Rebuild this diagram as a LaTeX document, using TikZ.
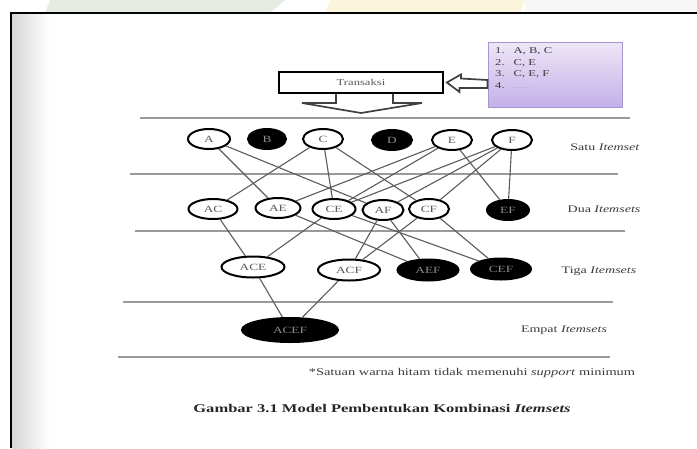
\documentclass[tikz,border=0pt]{standalone}
\usepackage{fontspec}
\setmainfont{Liberation Serif}[FakeStretch=1.4]
\usetikzlibrary{shapes.geometric}
\definecolor{linkgray}{HTML}{5C5C5C}
\definecolor{rulegray}{HTML}{9A9A9A}
\definecolor{textgray}{HTML}{3C3C3C}
\definecolor{boxtop}{HTML}{EEE6F7}
\definecolor{boxbottom}{HTML}{C3B0E9}
\definecolor{boxedge}{HTML}{A597CC}
\definecolor{bandgreen}{HTML}{E6ECE4}
\definecolor{bandyellow}{HTML}{FBF5DC}
\begin{document}
\begin{tikzpicture}[x=1pt,y=-1pt,
  item/.style={ellipse, draw=black, line width=2pt, fill=white, inner sep=0pt,
    minimum width=40pt, minimum height=20pt, text=black!65,
    font=\fontsize{9.5}{10}\selectfont},
  pruned/.style={item, fill=black, text=black!45},
  link/.style={draw=linkgray, line width=1.1pt},
  levelrule/.style={draw=rulegray, line width=1.4pt},
  levellabel/.style={text=textgray, font=\fontsize{10}{11}\selectfont, inner sep=0pt},
  hollow/.style={draw=black!75, line width=1.7pt, fill=white, line join=miter}]
\useasboundingbox (0,0) rectangle (697,448);
\fill[white] (0,0) rectangle (697,448);
% strip above the page edge
\fill[bandgreen] (50,0) -- (285,0) -- (270,13) -- (45,13) -- cycle;
\fill[bandyellow] (330,0) -- (525,0) -- (520,13) -- (325,13) -- cycle;
\fill[black!3] (525,0) rectangle (697,13);
% page frame and its shaded left margin
\shade[left color=black!16, right color=white] (12,14) rectangle (50,448);
\draw[line width=2.2pt] (11,448) -- (11,13) -- (697,13);

% level separators
\draw[levelrule] (140,118) -- (630,118);
\draw[levelrule] (130,174) -- (618,174);
\draw[levelrule] (135,231) -- (625,231);
\draw[levelrule] (123,302) -- (613,302);
\draw[levelrule] (118,357) -- (610,357);

% transaction source
\node[draw=black, line width=1.8pt, fill=white, minimum width=164pt, minimum height=21pt,
  inner sep=0pt, text=black!65, font=\fontsize{9}{10}\selectfont] (trans) at (361,82.5) {Transaksi};
\node[draw=boxedge, line width=1pt, top color=boxtop, bottom color=boxbottom,
  minimum width=134pt, minimum height=65pt, inner sep=0pt] (list) at (555,74.5) {};
\node[anchor=north west, inner sep=0pt, text=textgray, font=\fontsize{9}{11.5}\selectfont]
  (listtext) at (495,45.5) {\begin{tabular}{@{}l@{\hspace{9pt}}l@{}}
  1. & A, B, C\\ 2. & C, E\\ 3. & C, E, F\\ 4. & \textcolor{black!30}{......}\end{tabular}};

% hollow arrows: list into the transactions, transactions down to the lattice
\draw[hollow] ([xshift=3pt]trans.east) -- ++(14,-8) -- ++(0,4) -- (list.west |- 0,80)
  -- (list.west |- 0,88) -- ++(-28,0) -- ++(0,4) -- cycle;
\draw[hollow] (336,94) -- (336,103) -- (302,103) -- (361,113) -- (422,103) -- (393,103) -- (393,94);

% one-itemsets
\node[item, minimum width=42pt] (A) at (209,139) {A};
\node[pruned, minimum width=38pt] (B) at (267,139) {B};
\node[item] (C) at (323,139) {C};
\node[pruned] (D) at (392,140) {D};
\node[item] (E) at (452,140) {E};
\node[item] (F) at (512,140) {F};
% two-itemsets
\node[item, minimum width=49pt] (AC) at (213,209) {AC};
\node[item, minimum width=45pt] (AE) at (278,208) {AE};
\node[item, minimum width=43pt] (CE) at (334,209) {CE};
\node[item, minimum width=41pt] (AF) at (383,210) {AF};
\node[item, minimum width=40pt] (CF) at (429,209) {CF};
\node[pruned, minimum width=42pt] (EF) at (508,210) {EF};
% three-itemsets
\node[item, minimum width=63pt, minimum height=21pt] (ACE) at (253,267) {ACE};
\node[item, minimum width=62pt, minimum height=21pt] (ACF) at (349,270) {ACF};
\node[pruned, minimum width=61pt, minimum height=21pt] (AEF) at (428,270) {AEF};
\node[pruned, minimum width=60pt, minimum height=21pt] (CEF) at (501,269) {CEF};
% four-itemset
\node[pruned, minimum width=96pt, minimum height=24pt] (ACEF) at (290,330) {ACEF};

% candidate generation links
\draw[link] (A) -- (AE);
\draw[link] (A) -- (AF);
\draw[link] (C) -- (AC);
\draw[link] (C) -- (CE);
\draw[link] (C) -- (CF);
\draw[link] (E) -- (AE);
\draw[link] (E) -- (CE);
\draw[link] (E) -- (EF);
\draw[link] (F) -- (CE);
\draw[link] (F) -- (AF);
\draw[link] (F) -- (CF);
\draw[link] (F) -- (EF);
\draw[link] (AC) -- (ACE);
\draw[link] (CE) -- (ACE);
\draw[link] (AE) -- (AEF);
\draw[link] (CE) -- (CEF);
\draw[link] (AF) -- (ACF);
\draw[link] (AF) -- (AEF);
\draw[link] (CF) -- (ACF);
\draw[link] (CF) -- (CEF);
\draw[link] (ACE) -- (ACEF);
\draw[link] (ACF) -- (ACEF);

% level names
\node[levellabel] (l1) at (605,147) {Satu \textit{Itemset}};
\node[levellabel] (l2) at (604,209) {Dua \textit{Itemsets}};
\node[levellabel] (l3) at (599,271) {Tiga \textit{Itemsets}};
\node[levellabel] (l4) at (564,330) {Empat \textit{Itemsets}};

% note and caption
\node[text=textgray, inner sep=0pt, font=\fontsize{10.3}{11}\selectfont] (note) at (472,373)
  {*Satuan warna hitam tidak memenuhi \textit{support} minimum};
\node[text=black!85, inner sep=0pt, font=\fontsize{11.8}{13}\bfseries\selectfont] (caption) at (382,408)
  {Gambar 3.1 Model Pembentukan Kombinasi \textit{Itemsets}};
\end{tikzpicture}
\end{document}
